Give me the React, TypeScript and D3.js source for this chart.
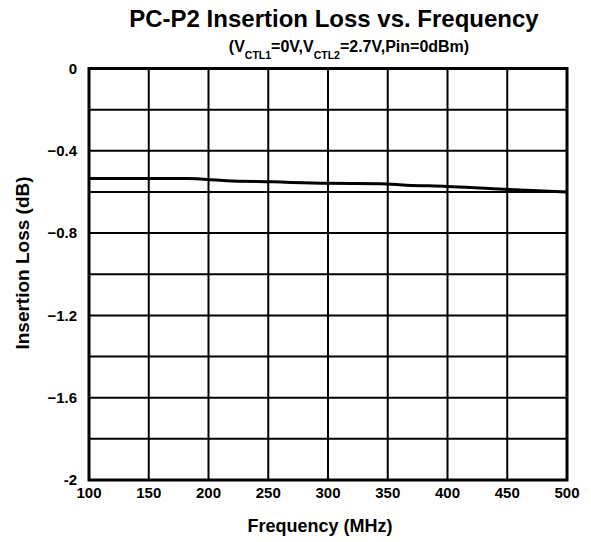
import React from "react";
import * as d3 from "d3";

const freqMHz = [100, 140, 182, 215, 254, 299, 344, 366, 400, 438, 461, 500];
const lossDb = [-0.535, -0.535, -0.535, -0.545, -0.551, -0.558, -0.56, -0.567, -0.573, -0.584, -0.59, -0.6];
const xTicks = [100, 150, 200, 250, 300, 350, 400, 450, 500];
const yGrid = [0, -0.2, -0.4, -0.6, -0.8, -1, -1.2, -1.4, -1.6, -1.8, -2];
const yTickLabels = [0, -0.4, -0.8, -1.2, -1.6, -2];

const W = 591;
const H = 542;
const left = 89;
const right = 567;
const top = 68.5;
const bottom = 480;
const FONT = "'Liberation Sans', Arial, sans-serif";

export default function App() {
  const x = d3.scaleLinear().domain([100, 500]).range([left, right]);
  const y = d3.scaleLinear().domain([0, -2]).range([top, bottom]);
  const line = d3
    .line<number>()
    .x((_, i) => x(freqMHz[i]))
    .y((d) => y(d))
    .curve(d3.curveMonotoneX);
  const fmt = (v: number) => (v === 0 ? "0" : v === -2 ? "-2" : d3.format(".1f")(v));

  return (
    <svg
      width={W}
      height={H}
      style={{ position: "absolute", left: 0, top: 0, background: "#fff" }}
      fontFamily={FONT}
      fontWeight="bold"
    >
      <rect x={0} y={0} width={W} height={H} fill="#fff" />
      <text x={334} y={27} textAnchor="middle" fontSize={24} fill="#000">
        PC-P2 Insertion Loss vs. Frequency
      </text>
      <text x={349} y={52} textAnchor="middle" fontSize={16} fill="#000">
        (V<tspan fontSize={10.5} dy={7}>CTL1</tspan>
        <tspan dy={-7}>=0V,V</tspan>
        <tspan fontSize={10.5} dy={7}>CTL2</tspan>
        <tspan dy={-7}>=2.7V,Pin=0dBm)</tspan>
      </text>
      {yGrid.map((v) => (
        <line key={"h" + v} x1={left} x2={right} y1={y(v)} y2={y(v)} stroke="#000" strokeWidth={2} />
      ))}
      {xTicks.map((v) => (
        <line key={"v" + v} x1={x(v)} x2={x(v)} y1={top} y2={bottom} stroke="#000" strokeWidth={2} />
      ))}
      <rect x={left} y={top} width={right - left} height={bottom - top} fill="none" stroke="#000" strokeWidth={3} />
      <path d={line(lossDb) || ""} fill="none" stroke="#000" strokeWidth={3} />
      {yTickLabels.map((v) => (
        <text key={"yl" + v} x={77} y={y(v)} dy="0.35em" textAnchor="end" fontSize={15} fill="#000">
          {fmt(v)}
        </text>
      ))}
      {xTicks.map((v) => (
        <text key={"xl" + v} x={x(v)} y={498} textAnchor="middle" fontSize={15} fill="#000">
          {v}
        </text>
      ))}
      <text x={320} y={532} textAnchor="middle" fontSize={18} fill="#000">
        Frequency (MHz)
      </text>
      <text
        transform={`translate(29,263) rotate(-90)`}
        textAnchor="middle"
        fontSize={19}
        fill="#000"
      >
        Insertion Loss (dB)
      </text>
    </svg>
  );
}
